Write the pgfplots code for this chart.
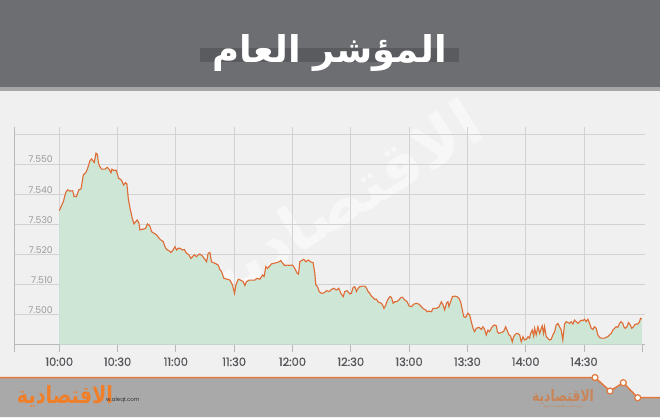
\documentclass[border=0pt]{standalone}
\usepackage{pgfplots}
\pgfplotsset{compat=1.18}
\usepackage{pgfplotstable}
\usepackage{fontspec}
\setmainfont{Poppins}
\newfontfamily\xlabfont[FakeBold=0.7]{Poppins}
\newfontfamily\arabicfont[Script=Arabic]{DejaVu Sans}
\TeXXeTstate=1
\definecolor{bg}{HTML}{F0F0F0}
\definecolor{titlebar}{HTML}{6D6E71}
\definecolor{strip}{HTML}{A5A6A8}
\definecolor{band}{HTML}{5A5B5E}
\definecolor{footer}{HTML}{A9A9A9}
\definecolor{orangeline}{HTML}{E2783C}
\definecolor{logoorange}{HTML}{F07F2A}
\definecolor{logotan}{HTML}{C98458}
\definecolor{mint}{HTML}{CDE6D5}
\definecolor{plotline}{HTML}{DF6B35}
\definecolor{gridgray}{HTML}{D2D2D2}
\definecolor{axisgray}{HTML}{B8B8B8}
\definecolor{xlab}{HTML}{55565A}
\definecolor{ylab}{HTML}{9A9A9A}

\pgfplotstableread{
t v
0.0 7.5345
2.1 7.5375
3.3 7.5405
4.3 7.5414
5.5 7.5410
6.9 7.5411
7.6 7.5392
8.9 7.5392
10.0 7.5414
11.2 7.5417
11.8 7.5441
12.4 7.5464
13.7 7.5472
14.4 7.5482
15.8 7.5511
16.6 7.5517
17.5 7.5509
18.0 7.5505
18.9 7.5536
19.6 7.5532
20.2 7.5502
20.9 7.5491
21.8 7.5483
23.5 7.5483
24.7 7.5489
25.7 7.5482
26.6 7.5471
27.1 7.5483
28.1 7.5478
29.2 7.5480
29.8 7.5469
30.5 7.5452
31.6 7.5449
32.4 7.5441
33.1 7.5430
34.1 7.5438
34.8 7.5434
35.5 7.5386
36.4 7.5353
37.6 7.5319
38.4 7.5301
39.3 7.5308
40.1 7.5314
41.0 7.5303
41.5 7.5281
42.4 7.5283
43.2 7.5283
44.4 7.5286
45.4 7.5301
46.6 7.5294
47.5 7.5275
48.7 7.5270
50.1 7.5264
51.4 7.5253
52.3 7.5247
53.5 7.5242
54.4 7.5225
55.2 7.5216
56.6 7.5211
57.4 7.5206
58.6 7.5214
59.5 7.5225
60.4 7.5214
61.2 7.5220
62.1 7.5220
63.3 7.5214
64.3 7.5216
65.5 7.5203
66.7 7.5198
67.7 7.5186
68.6 7.5192
69.4 7.5198
70.6 7.5192
71.5 7.5198
72.3 7.5201
73.7 7.5194
74.9 7.5183
75.8 7.5175
76.6 7.5203
77.5 7.5206
78.3 7.5175
80.1 7.5170
81.8 7.5164
82.6 7.5150
83.5 7.5142
84.7 7.5120
86.4 7.5117
87.8 7.5114
89.1 7.5098
90.2 7.5070
90.9 7.5098
92.1 7.5117
93.3 7.5114
94.6 7.5109
95.5 7.5096
96.3 7.5109
97.7 7.5114
98.9 7.5114
100.6 7.5114
101.8 7.5120
103.2 7.5117
104.6 7.5131
105.4 7.5126
106.3 7.5159
107.1 7.5153
108.0 7.5159
109.2 7.5168
110.4 7.5170
111.8 7.5172
113.1 7.5175
114.0 7.5179
114.9 7.5170
116.1 7.5162
117.3 7.5164
118.6 7.5163
120.0 7.5164
121.2 7.5153
122.4 7.5137
123.1 7.5134
123.8 7.5175
124.6 7.5179
125.8 7.5183
126.9 7.5175
128.1 7.5181
129.3 7.5175
130.6 7.5172
131.5 7.5137
132.0 7.5098
132.9 7.5092
133.7 7.5076
134.9 7.5070
136.3 7.5072
137.5 7.5079
138.9 7.5076
140.1 7.5083
141.3 7.5087
142.6 7.5081
143.8 7.5087
144.9 7.5070
146.1 7.5059
146.9 7.5076
148.1 7.5079
149.5 7.5068
150.3 7.5070
151.2 7.5090
152.1 7.5092
152.9 7.5076
153.8 7.5087
154.6 7.5092
156.0 7.5094
157.2 7.5094
158.1 7.5087
158.9 7.5076
159.8 7.5070
160.6 7.5061
161.5 7.5056
162.3 7.5050
163.2 7.5051
164.0 7.5042
164.9 7.5039
165.8 7.5037
166.6 7.5028
167.1 7.5020
168.0 7.5031
168.9 7.5048
170.1 7.5059
170.9 7.5057
171.8 7.5037
172.6 7.5042
173.5 7.5042
174.8 7.5048
175.7 7.5056
176.6 7.5057
177.8 7.5048
179.0 7.5042
180.0 7.5028
181.2 7.5026
182.4 7.5034
183.8 7.5037
185.1 7.5034
186.3 7.5026
187.5 7.5018
188.6 7.5015
189.2 7.5009
190.3 7.5011
191.5 7.5009
192.3 7.5020
194.0 7.5020
195.4 7.5025
196.6 7.5042
197.5 7.5031
198.3 7.5015
199.2 7.5037
200.0 7.5042
200.5 7.5026
201.2 7.5039
202.3 7.5059
203.5 7.5061
204.7 7.5059
205.7 7.5053
206.5 7.5042
207.4 7.5015
208.1 7.4993
209.1 7.4990
210.3 7.5004
211.2 7.4998
212.0 7.4976
212.9 7.4954
213.7 7.4943
214.6 7.4954
216.0 7.4957
217.2 7.4950
218.0 7.4959
218.9 7.4950
219.7 7.4932
220.6 7.4948
221.4 7.4943
222.3 7.4954
223.2 7.4962
224.0 7.4965
224.9 7.4962
225.4 7.4943
226.2 7.4937
227.4 7.4940
228.6 7.4943
229.7 7.4959
230.5 7.4946
231.4 7.4932
232.2 7.4928
233.1 7.4909
233.8 7.4926
234.8 7.4935
235.7 7.4937
236.9 7.4932
237.7 7.4909
238.6 7.4926
239.4 7.4915
240.3 7.4917
241.2 7.4926
242.0 7.4921
242.5 7.4937
243.4 7.4948
244.1 7.4928
244.6 7.4954
245.4 7.4932
246.3 7.4959
247.2 7.4937
247.7 7.4948
248.5 7.4962
249.2 7.4937
249.7 7.4959
250.6 7.4926
251.4 7.4921
252.3 7.4915
253.1 7.4917
254.0 7.4932
254.9 7.4943
255.7 7.4965
256.6 7.4970
257.4 7.4959
258.3 7.4948
259.1 7.4915
260.0 7.4968
260.9 7.4976
261.7 7.4973
262.6 7.4970
263.4 7.4976
264.3 7.4968
265.1 7.4981
266.0 7.4976
266.9 7.4970
267.7 7.4976
268.6 7.4981
269.4 7.4979
270.3 7.4984
271.1 7.4976
272.0 7.4984
272.9 7.4970
273.7 7.4954
274.6 7.4950
275.4 7.4959
276.3 7.4954
277.1 7.4932
278.0 7.4924
278.9 7.4921
279.7 7.4921
280.6 7.4921
281.4 7.4924
282.3 7.4926
283.1 7.4932
284.0 7.4937
284.9 7.4948
285.7 7.4954
286.6 7.4959
287.4 7.4957
288.3 7.4970
289.1 7.4976
290.0 7.4970
290.5 7.4959
291.2 7.4954
292.1 7.4959
292.9 7.4973
293.8 7.4965
294.6 7.4954
295.5 7.4959
296.0 7.4965
296.9 7.4968
297.7 7.4968
298.6 7.4976
299.1 7.4987
299.8 7.4985
}\tsidata

\begin{document}
\begin{tikzpicture}[x=1bp,y=1bp]
\useasboundingbox (0,0) rectangle (660,417);
% background and title bar
\fill[bg] (0,0) rectangle (660,417);
\fill[titlebar] (0,330) rectangle (660,417);
\fill[strip] (0,326.5) rectangle (660,330);
\fill[band] (200,355) rectangle (459,369);
\node[anchor=base, text=white, inner sep=0pt] at (330,355)
  {\arabicfont\bfseries\fontsize{37}{44}\selectfont\beginR المؤشر العام\endR};

% watermark (behind the chart)
\node[rotate=32, text=white, opacity=0.5, inner sep=0pt] at (342,212)
  {\resizebox{320bp}{!}{\arabicfont\bfseries\beginR الاقتصادية\endR}};

\begin{axis}[
  at={(14bp,72.5bp)}, anchor=south west,
  scale only axis, width=631bp, height=217.5bp,
  xmin=-23.3, xmax=301.4, ymin=7.490, ymax=7.5623,
  axis x line=bottom, axis y line=left,
  x axis line style={-, draw=axisgray, line width=0.8bp},
  y axis line style={-, draw=axisgray, line width=0.8bp, shorten <=-7.5bp},
  xtick={0,30,60,90,120,150,180,210,240,270},
  xticklabels={10:00,10:30,11:00,11:30,12:00,12:30,13:00,13:30,14:00,14:30},
  extra x ticks={300}, extra x tick labels={},
  extra x tick style={grid=none},
  tick align=outside, major tick length=7bp,
  x tick style={draw=axisgray, line width=0.8bp},
  ytick={7.50,7.51,7.52,7.53,7.54,7.55,7.56},
  yticklabels={7.500,7.510,7.520,7.530,7.540,7.550,{}},
  y tick style={draw=none},
  xmajorgrids, ymajorgrids,
  major grid style={draw=gridgray, line width=0.8bp},
  xticklabel style={font=\xlabfont\fontsize{11.5}{13}\selectfont, text=xlab, yshift=-2.5bp},
  yticklabel style={font=\fontsize{9.3}{11}\selectfont, text=ylab,
     anchor=south east, inner sep=0.5bp, xshift=46.5bp, yshift=0.3bp},
]
\addplot[draw=none, fill=mint] table[x=t, y=v] {\tsidata} \closedcycle;
\addplot[draw=plotline, line width=1.1bp, mark=none] table[x=t, y=v] {\tsidata};
\end{axis}

% footer
\fill[footer] (0,0) -- (0,39.5) -- (595,39.5) -- (610,26) -- (623.3,34.3) -- (637.7,19.3) -- (660,19.3) -- (660,0) -- cycle;
\draw[orangeline, line width=1.5bp] (0,39.5) -- (595,39.5) -- (610,26) -- (623.3,34.3) -- (637.7,19.3) -- (660,19.3);
\foreach \p in {(595,39.5),(610,26),(623.3,34.3),(637.7,19.3)}
  \draw[orangeline, fill=white, line width=1.2bp] \p circle (3bp);
\node[text=logoorange, inner sep=0pt] at (65,21)
  {\resizebox{96bp}{18bp}{\arabicfont\bfseries\beginR الاقتصادية\endR}};
\node[anchor=west, text=black!80, inner sep=0pt, font=\fontsize{5.5}{6}\selectfont] at (106,17) {w.aleqt.com};
\node[text=logotan, inner sep=0pt] at (563,20)
  {\resizebox{62bp}{12bp}{\arabicfont\bfseries\beginR الاقتصادية\endR}};
\node[text=logotan, inner sep=0pt] at (563,10.5)
  {\resizebox{40bp}{!}{\arabicfont\beginR جريدة العرب الاقتصادية الدولية\endR}};
\end{tikzpicture}
\end{document}
